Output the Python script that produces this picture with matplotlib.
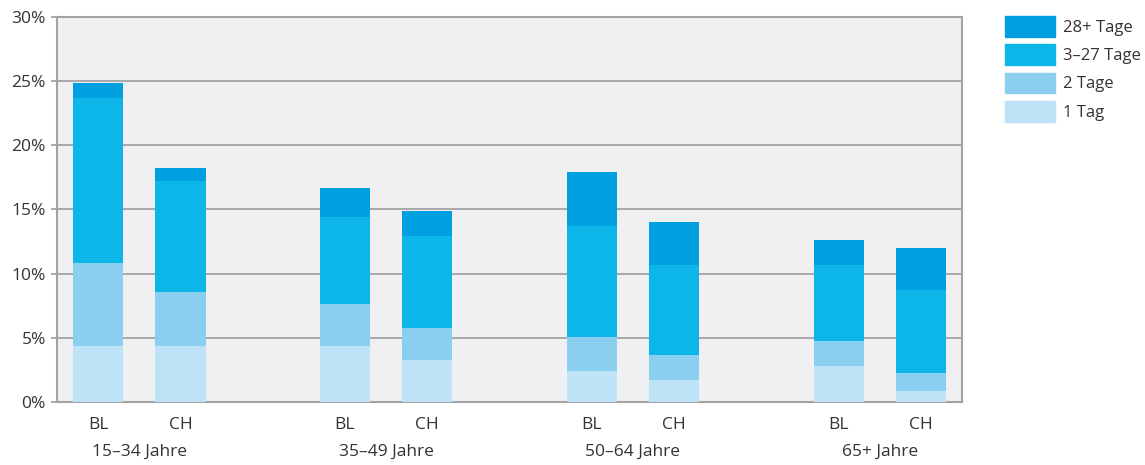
import numpy as np
import matplotlib
matplotlib.use("Agg")
import matplotlib.pyplot as plt
from matplotlib.patches import Patch
from matplotlib.transforms import blended_transform_factory

plt.rcParams['font.family'] = ['Open Sans', 'DejaVu Sans']

groups = ['15–34 Jahre', '35–49 Jahre', '50–64 Jahre', '65+ Jahre']
regions = ['BL', 'CH']
series = ['1 Tag', '2 Tage', '3–27 Tage', '28+ Tage']

# segment values (%), order: BL, CH per age group
tag1 = [4.4, 4.35, 4.4, 3.25, 2.45, 1.7, 2.8, 0.85]
tage2 = [6.4, 4.25, 3.2, 2.5, 2.6, 1.95, 1.95, 1.4]
tage3_27 = [12.85, 8.65, 6.85, 7.15, 8.7, 7.0, 5.9, 6.45]
tage28 = [1.2, 1.0, 2.25, 1.95, 4.15, 3.35, 1.95, 3.3]

colors = ['#bee3f6', '#8acef0', '#0cb6e8', '#009fdf']
grey = '#a3a3a6'
text_col = '#333333'

x = np.array([g * 3 + r for g in range(len(groups)) for r in range(len(regions))])
labels = [r for g in groups for r in regions]

fig = plt.figure(figsize=(11.45, 4.65), dpi=100)
ax = fig.add_axes([0.0498, 0.1355, 0.7904, 0.828])
ax.set_facecolor('#f0f0f2')

bottom = np.zeros(len(x))
for vals, col in zip([tag1, tage2, tage3_27, tage28], colors):
    ax.bar(x, vals, width=0.61, bottom=bottom, color=col, zorder=3)
    bottom += np.array(vals)

ax.set_xlim(-0.5, 10.5)
ax.set_ylim(0, 30)
ax.set_yticks(range(0, 31, 5))
ax.set_yticklabels([f'{v}%' for v in range(0, 31, 5)])
ax.yaxis.grid(True, color=grey, linewidth=1.3, zorder=1)
ax.tick_params(axis='y', length=4, width=1.3, color=grey, labelsize=12.5,
               labelcolor=text_col, pad=4)
ax.set_xticks(x)
ax.set_xticklabels(labels)
ax.tick_params(axis='x', length=0, labelsize=12.5, labelcolor=text_col, pad=11)
for s in ax.spines.values():
    s.set_color(grey)
    s.set_linewidth(1.5)
ax.set_axisbelow(True)

trans = blended_transform_factory(ax.transData, ax.transAxes)
for i, g in enumerate(groups):
    ax.text(i * 3 + 0.5, -0.13, g, transform=trans, ha='center', va='center',
            fontsize=12.5, color=text_col)

handles = [Patch(color=c, label=s) for c, s in zip(colors[::-1], series[::-1])]
fig.legend(handles=handles, loc='upper left', bbox_to_anchor=(0.878, 0.966),
           frameon=False, fontsize=12, handlelength=3.0, handleheight=1.55,
           handletextpad=0.45, labelspacing=0.45, labelcolor=text_col,
           borderaxespad=0, borderpad=0)

fig.savefig('out.png', dpi=100)
